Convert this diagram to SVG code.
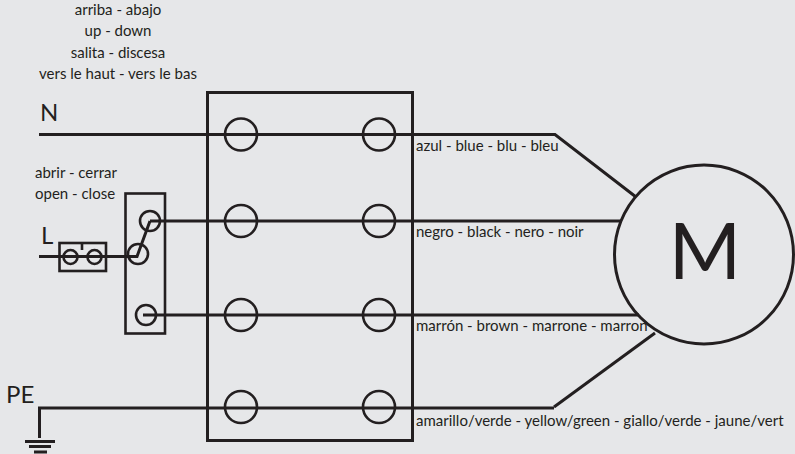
<svg xmlns="http://www.w3.org/2000/svg" width="795" height="454" viewBox="0 0 795 454">
<style>
.w{fill:none;stroke:#231f20;stroke-width:3}
.t{fill:none;stroke:#231f20;stroke-width:2.600}
text{font-family:Lato,"Open Sans","Liberation Sans",sans-serif;fill:#231f20}
.s{font-size:15px}
.c{text-anchor:middle}
.l{font-size:24px}
</style>
<rect width="795" height="454" fill="#e6e7e9"/>
<g id="connectors">
<path class="w" d="M39 134.500H555L636 197"/>
<path class="w" d="M150 221H622"/>
<path class="w" d="M143 315H639"/>
<path class="w" d="M554 407L655 333"/>
<path class="w" d="M39.500 438V408H554"/>
<path class="w" d="M39 256.500H137L150 221"/>
<path class="w" d="M25 441.500H55M29 446.500H51M34 452H47"/>
</g>
<g id="box"><rect class="w" x="207.500" y="92.500" width="205" height="348"/></g>
<g id="t1a"><circle class="t" cx="241" cy="134.500" r="16"/></g>
<g id="t1b"><circle class="t" cx="379" cy="134.500" r="16"/></g>
<g id="t2a"><circle class="t" cx="241" cy="221" r="16"/></g>
<g id="t2b"><circle class="t" cx="379" cy="221" r="16"/></g>
<g id="t3a"><circle class="t" cx="241" cy="315" r="16"/></g>
<g id="t3b"><circle class="t" cx="379" cy="315" r="16"/></g>
<g id="t4a"><circle class="t" cx="241" cy="407" r="16"/></g>
<g id="t4b"><circle class="t" cx="379" cy="407" r="16"/></g>
<g id="motor"><circle class="w" cx="704" cy="254.500" r="89.500"/><text x="705" y="279" text-anchor="middle" font-size="78">M</text></g>
<g id="fuse"><rect class="t" x="59.500" y="243" width="46.500" height="28"/><path class="t" d="M82 243V250"/><circle class="t" cx="70.500" cy="257" r="7"/><circle class="t" cx="94.500" cy="257" r="7"/></g>
<g id="switch"><rect class="t" x="125.500" y="193.500" width="39.500" height="140"/><circle class="t" cx="150" cy="221" r="10"/><circle class="t" cx="138" cy="254" r="10"/><circle class="t" cx="146" cy="315" r="10"/></g>
<g id="labels">
<text class="s c" x="118" y="15">arriba - abajo</text>
<text class="s c" x="118" y="36">up - down</text>
<text class="s c" x="118" y="58">salita - discesa</text>
<text class="s c" x="118" y="79">vers le haut - vers le bas</text>
<text class="l" x="40" y="121">N</text>
<text class="l" x="41" y="244">L</text>
<text class="l" x="6" y="403">PE</text>
<text class="s" x="35" y="178">abrir - cerrar</text>
<text class="s" x="35" y="199">open - close</text>
<text class="s" x="416" y="151">azul - blue - blu - bleu</text>
<text class="s" x="416" y="237">negro - black - nero - noir</text>
<text class="s" x="416" y="331">marrón - brown - marrone - marron</text>
<text class="s" x="416" y="426">amarillo/verde - yellow/green - giallo/verde - jaune/vert</text>
</g>
</svg>
